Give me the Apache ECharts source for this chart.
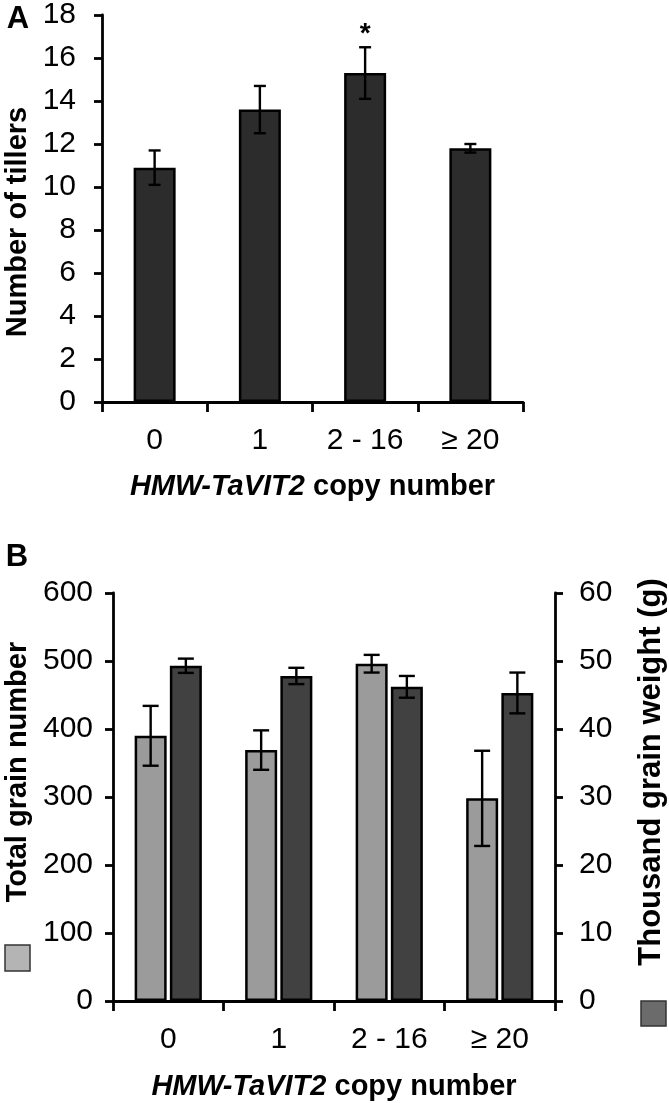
<!DOCTYPE html>
<html>
<head>
<meta charset="utf-8">
<script src="https://cdn.jsdelivr.net/npm/echarts@6/dist/echarts.min.js"></script>
<style>
  html, body { margin: 0; padding: 0; background: #ffffff; }
  #chart { width: 669px; height: 1103px; }
</style>
</head>
<body>
<div id="chart"></div>
<script>
// ---------------- data ----------------
const categories = ['0', '1', '2 - 16', '\u2265 20'];

// Panel A: number of tillers (mean, error)
const tillers = [10.9, 13.6, 15.3, 11.8];
const tillersErr = [0.8, 1.1, 1.2, 0.2];
const tillersSig = ['', '', '*', ''];

// Panel B: total grain number (left axis) and thousand grain weight (right axis)
const grainNumber = [390, 369, 496, 298];
const grainNumberErr = [44, 29, 13, 70];
const grainWeight = [49.3, 47.8, 46.2, 45.3];
const grainWeightErr = [1.05, 1.2, 1.6, 3.0];

// axis ranges
const tillerAxis = { min: 0, max: 18, interval: 2 };
const grainNumberAxis = { min: 0, max: 600, interval: 100 };
const grainWeightAxis = { min: 0, max: 60, interval: 10 };

// ---------------- styling ----------------
const FONT = 'Liberation Sans, Arial, sans-serif';
const TICK_FS = 30;
const NAME_FS = 29;
const BAR_B = 32;
const GAP_B = 0.10;

function errData(vals, errs, sig) {
  return vals.map((v, i) => [i, v - errs[i], v + errs[i], sig ? sig[i] : '']);
}

function makeErrRender(offset, capHalf) {
  return function (params, api) {
    const i = api.value(0);
    const lo = api.coord([i, api.value(1)]);
    const hi = api.coord([i, api.value(2)]);
    const x = lo[0] + offset;
    const st = { stroke: '#000', lineWidth: 2.4 };
    const children = [
      { type: 'line', shape: { x1: x, y1: lo[1], x2: x, y2: hi[1] }, style: st },
      { type: 'line', shape: { x1: x - capHalf, y1: lo[1], x2: x + capHalf, y2: lo[1] }, style: st },
      { type: 'line', shape: { x1: x - capHalf, y1: hi[1], x2: x + capHalf, y2: hi[1] }, style: st }
    ];
    const s = api.value(3);
    if (s) {
      children.push({
        type: 'text',
        style: { text: s, x: x, y: hi[1] + 1, textAlign: 'center', textVerticalAlign: 'bottom',
                 font: 'bold 28px ' + FONT, fill: '#000' }
      });
    }
    return { type: 'group', children: children };
  };
}

const axisLine = { show: true, lineStyle: { color: '#000', width: 2.8 } };
const tickStyle = { color: '#000', width: 2.8 };
const xName = {
  name: '{i|HMW-TaVIT2} copy number',
  nameLocation: 'middle',
  nameTextStyle: {
    fontFamily: FONT, fontSize: NAME_FS, fontWeight: 'bold', color: '#000',
    rich: { i: { fontFamily: FONT, fontSize: NAME_FS, fontWeight: 'bold', fontStyle: 'italic', color: '#000' } }
  }
};

const dxB = BAR_B * (1 + GAP_B) / 2;

const option = {
  animation: false,
  backgroundColor: '#ffffff',
  grid: [
    { left: 102, top: 15, width: 421, height: 387 },
    { left: 113, top: 593, width: 442, height: 408 }
  ],
  xAxis: [
    Object.assign({
      type: 'category', gridIndex: 0, data: categories,
      axisLine: axisLine,
      axisTick: { show: true, length: 10, lineStyle: tickStyle },
      axisLabel: { fontFamily: FONT, fontSize: TICK_FS, color: '#000', margin: 24 },
      nameGap: 70
    }, xName),
    Object.assign({
      type: 'category', gridIndex: 1, data: categories,
      axisLine: axisLine,
      axisTick: { show: true, length: 10, lineStyle: tickStyle },
      axisLabel: { fontFamily: FONT, fontSize: TICK_FS, color: '#000', margin: 24 },
      nameGap: 71
    }, xName)
  ],
  yAxis: [
    {
      type: 'value', gridIndex: 0, min: tillerAxis.min, max: tillerAxis.max, interval: tillerAxis.interval,
      axisLine: axisLine,
      axisTick: { show: true, length: 8, lineStyle: tickStyle },
      axisLabel: { fontFamily: FONT, fontSize: TICK_FS, color: '#000', margin: 26 },
      splitLine: { show: false }
    },
    {
      type: 'value', gridIndex: 1, position: 'left',
      min: grainNumberAxis.min, max: grainNumberAxis.max, interval: grainNumberAxis.interval,
      axisLine: axisLine,
      axisTick: { show: true, length: 8, lineStyle: tickStyle },
      axisLabel: { fontFamily: FONT, fontSize: TICK_FS, color: '#000', margin: 20 },
      splitLine: { show: false }
    },
    {
      type: 'value', gridIndex: 1, position: 'right',
      min: grainWeightAxis.min, max: grainWeightAxis.max, interval: grainWeightAxis.interval,
      axisLine: axisLine,
      axisTick: { show: true, length: 8, lineStyle: tickStyle },
      axisLabel: { fontFamily: FONT, fontSize: TICK_FS, color: '#000', margin: 24 },
      splitLine: { show: false }
    }
  ],
  series: [
    {
      name: 'Number of tillers', type: 'bar', xAxisIndex: 0, yAxisIndex: 0,
      data: tillers, barWidth: 42,
      itemStyle: { color: '#2c2c2c', borderColor: '#000', borderWidth: 2.5 }
    },
    {
      type: 'custom', xAxisIndex: 0, yAxisIndex: 0, z: 5,
      renderItem: makeErrRender(0, 6),
      encode: { x: 0, y: [1, 2] },
      data: errData(tillers, tillersErr, tillersSig)
    },
    {
      name: 'Total grain number', type: 'bar', xAxisIndex: 1, yAxisIndex: 1,
      data: grainNumber, barWidth: BAR_B, barGap: (GAP_B * 100) + '%',
      itemStyle: { color: '#9b9b9b', borderColor: '#000', borderWidth: 2.5 }
    },
    {
      name: 'Thousand grain weight (g)', type: 'bar', xAxisIndex: 1, yAxisIndex: 2,
      data: grainWeight, barWidth: BAR_B, barGap: (GAP_B * 100) + '%',
      itemStyle: { color: '#414141', borderColor: '#000', borderWidth: 2.5 }
    },
    {
      type: 'custom', xAxisIndex: 1, yAxisIndex: 1, z: 5,
      renderItem: makeErrRender(-dxB, 8),
      encode: { x: 0, y: [1, 2] },
      data: errData(grainNumber, grainNumberErr)
    },
    {
      type: 'custom', xAxisIndex: 1, yAxisIndex: 2, z: 5,
      renderItem: makeErrRender(dxB, 8),
      encode: { x: 0, y: [1, 2] },
      data: errData(grainWeight, grainWeightErr)
    }
  ],
  graphic: [
    { type: 'text', x: 18, y: 19, style: { text: 'A', font: 'bold 31px ' + FONT, fill: '#000', textAlign: 'center', textVerticalAlign: 'middle' } },
    { type: 'text', x: 17, y: 557, style: { text: 'B', font: 'bold 31px ' + FONT, fill: '#000', textAlign: 'center', textVerticalAlign: 'middle' } },
    { type: 'text', x: 18, y: 222, rotation: Math.PI / 2,
      style: { text: 'Number of tillers', font: 'bold 29px ' + FONT, fill: '#000', textAlign: 'center', textVerticalAlign: 'middle' } },
    { type: 'text', x: 18, y: 772, rotation: Math.PI / 2,
      style: { text: 'Total grain number', font: 'bold 29px ' + FONT, fill: '#000', textAlign: 'center', textVerticalAlign: 'middle' } },
    { type: 'text', x: 651, y: 772, rotation: Math.PI / 2,
      style: { text: 'Thousand grain weight (g)', font: 'bold 31px ' + FONT, fill: '#000', textAlign: 'center', textVerticalAlign: 'middle' } },
    { type: 'rect', shape: { x: 5, y: 945, width: 25, height: 26 },
      style: { fill: '#b4b4b4', stroke: '#333', lineWidth: 1.5 } },
    { type: 'rect', shape: { x: 641, y: 1001, width: 25, height: 25 },
      style: { fill: '#6b6b6b', stroke: '#333', lineWidth: 1.5 } }
  ]
};

const chart = echarts.init(document.getElementById('chart'), null, { renderer: 'canvas' });
chart.setOption(option);
</script>
</body>
</html>
